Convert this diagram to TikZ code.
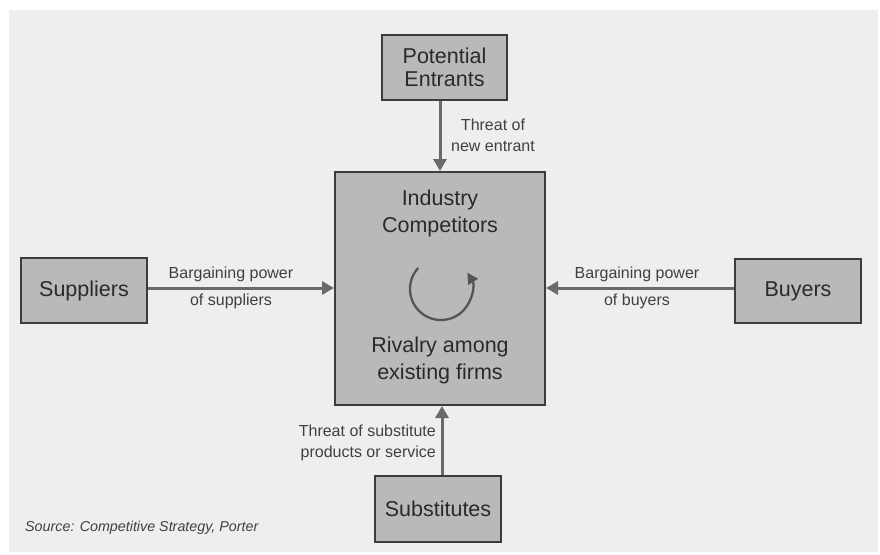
\documentclass[tikz,border=0pt]{standalone}
\usepackage{fontspec}
\setmainfont{Liberation Sans}
\usetikzlibrary{arrows.meta}
\definecolor{panel}{HTML}{EEEEEE}
\definecolor{boxfill}{HTML}{B9B9B9}
\definecolor{boxline}{HTML}{3C3C3C}
\definecolor{arrowc}{HTML}{6A6A6A}
\definecolor{txt}{HTML}{2A2A2A}
\definecolor{lbl}{HTML}{404040}
\tikzset{
  forcebox/.style={draw=boxline, line width=2pt, fill=boxfill, inner sep=0pt, text=txt,
    align=center, font=\fontsize{21.5}{24}\selectfont},
  bigtxt/.style={text=txt, align=center, inner sep=0pt, font=\fontsize{21.5}{27}\selectfont},
  lbltxt/.style={text=lbl, inner sep=0pt, font=\fontsize{16}{21}\selectfont},
  force/.style={draw=arrowc, line width=3pt, -{Triangle[length=12pt,width=13pt]}},
}
\begin{document}
\begin{tikzpicture}[x=1pt,y=1pt]
\useasboundingbox (0,0) rectangle (880,-554);
\fill[panel] (9,-10) rectangle (878,-552);
% boxes
\node[forcebox, minimum width=125pt, minimum height=65pt] (ent) at (444.5,-67.5) {Potential\\[-1pt]Entrants};
\node[forcebox, minimum width=210pt, minimum height=233pt] (ind) at (440,-288.5) {};
\node[forcebox, minimum width=126pt, minimum height=65pt] (sup) at (84,-290.5) {Suppliers};
\node[forcebox, minimum width=126pt, minimum height=64pt] (buy) at (798,-291) {Buyers};
\node[forcebox, minimum width=126pt, minimum height=66pt] (sub) at (438,-509) {Substitutes};
% central texts
\node[bigtxt] (indt) at (440,-213) {Industry\\Competitors};
\node[bigtxt] (rivt) at (440,-360.5) {Rivalry among\\existing firms};
\coordinate (rc) at (441,-289);
\draw[draw=arrowc!80!black, line width=2.3pt, -{Triangle[length=11pt,width=11pt]}]
  ([shift={(137:31)}]rc) arc[start angle=137, end angle=392, radius=31];
% arrows
\coordinate (subtop) at (ind.south -| 442,0);
\coordinate (subbot) at (sub.north -| 442,0);
\draw[force] (ent.south -| ind.north) -- (ind.north);
\draw[force] (sup.east |- 0,-288) -- (ind.west |- 0,-288);
\draw[force] (buy.west |- 0,-288) -- (ind.east |- 0,-288);
\draw[force] (subbot) -- (subtop);
% labels
\node[lbltxt, align=center] (lent) at (493,-135.5) {Threat of\\new entrant};
\node[lbltxt, align=center] (lsup) at (231,-288) {Bargaining power\\[6pt]of suppliers};
\node[lbltxt, align=center] (lbuy) at (637,-288) {Bargaining power\\[6pt]of buyers};
\node[lbltxt, align=right, anchor=east] (lsub) at (436,-442.5) {Threat of substitute\\products or service};
\node[text=lbl, inner sep=0pt, anchor=west, font=\itshape\fontsize{14.3}{16}\selectfont] (src) at (25,-528) {Source: Competitive Strategy, Porter};
\end{tikzpicture}
\end{document}
